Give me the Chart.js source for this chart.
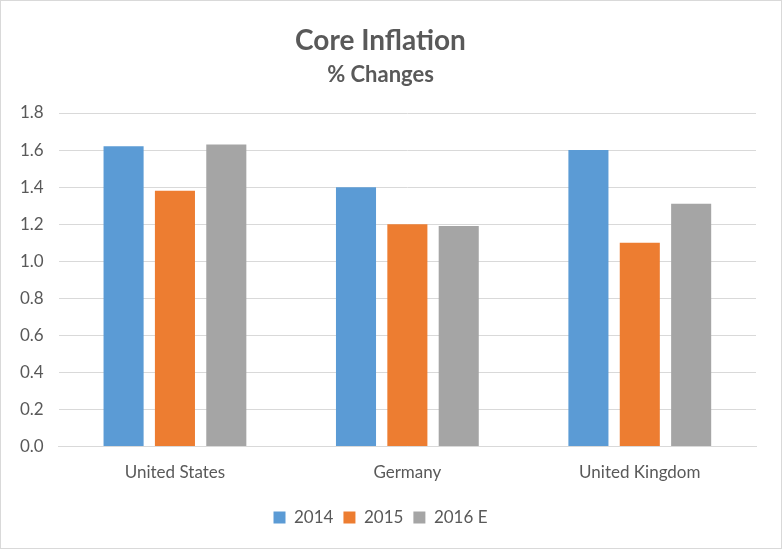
<!DOCTYPE html>
<html>
<head>
<meta charset="utf-8">
<script src="https://cdn.jsdelivr.net/npm/chart.js@4.4.1/dist/chart.umd.min.js"></script>
<style>
html,body{margin:0;padding:0;background:#fff;}
#wrap{position:absolute;left:0;top:0;width:780px;height:547px;border:1px solid #d9d9d9;background:#fff;}
</style>
</head>
<body>
<div id="wrap"><canvas id="c" width="780" height="547"></canvas></div>
<script>
const categories = ["United States", "Germany", "United Kingdom"];
const series2014 = [1.62, 1.40, 1.60];
const series2015 = [1.38, 1.20, 1.10];
const series2016E = [1.63, 1.19, 1.31];
const seriesNames = ["2014", "2015", "2016 E"];
const yTicks = [0.0, 0.2, 0.4, 0.6, 0.8, 1.0, 1.2, 1.4, 1.6, 1.8];

const FONT = "Lato, 'Open Sans', sans-serif";
const TXT = "#595959";

new Chart(document.getElementById('c'), {
  type: 'bar',
  data: {
    labels: categories,
    datasets: [
      {label: seriesNames[0], data: series2014, backgroundColor: '#5b9bd5'},
      {label: seriesNames[1], data: series2015, backgroundColor: '#ed7d31'},
      {label: seriesNames[2], data: series2016E, backgroundColor: '#a5a5a5'}
    ]
  },
  options: {
    responsive: false,
    animation: false,
    devicePixelRatio: 1,
    layout: {padding: {left: 4, right: 25, top: 23, bottom: 12}},
    datasets: {bar: {categoryPercentage: 0.663, barPercentage: 0.78}},
    plugins: {
      title: {display: true, text: 'Core Inflation', color: TXT, font: {family: FONT, size: 28, weight: 'bold'}, padding: {top: 0, bottom: 4}},
      subtitle: {display: true, text: '% Changes', color: TXT, font: {family: FONT, size: 22, weight: 'bold'}, padding: {top: 0, bottom: 25}},
      legend: {position: 'bottom', labels: {color: TXT, font: {family: FONT, size: 17}, boxWidth: 12, boxHeight: 12, padding: 10}},
      tooltip: {enabled: false}
    },
    scales: {
      x: {
        grid: {display: false, drawTicks: false},
        border: {display: true, color: '#d9d9d9', width: 1},
        ticks: {color: TXT, font: {family: FONT, size: 17}, padding: 16}
      },
      y: {
        min: 0, max: 1.8,
        afterBuildTicks: (axis) => { axis.ticks = yTicks.map(v => ({value: v})); },
        grid: {color: '#d9d9d9', drawTicks: false},
        border: {display: false},
        ticks: {color: TXT, font: {family: FONT, size: 17}, padding: 15, callback: v => Number(v).toFixed(1)}
      }
    }
  }
});
</script>
</body>
</html>
